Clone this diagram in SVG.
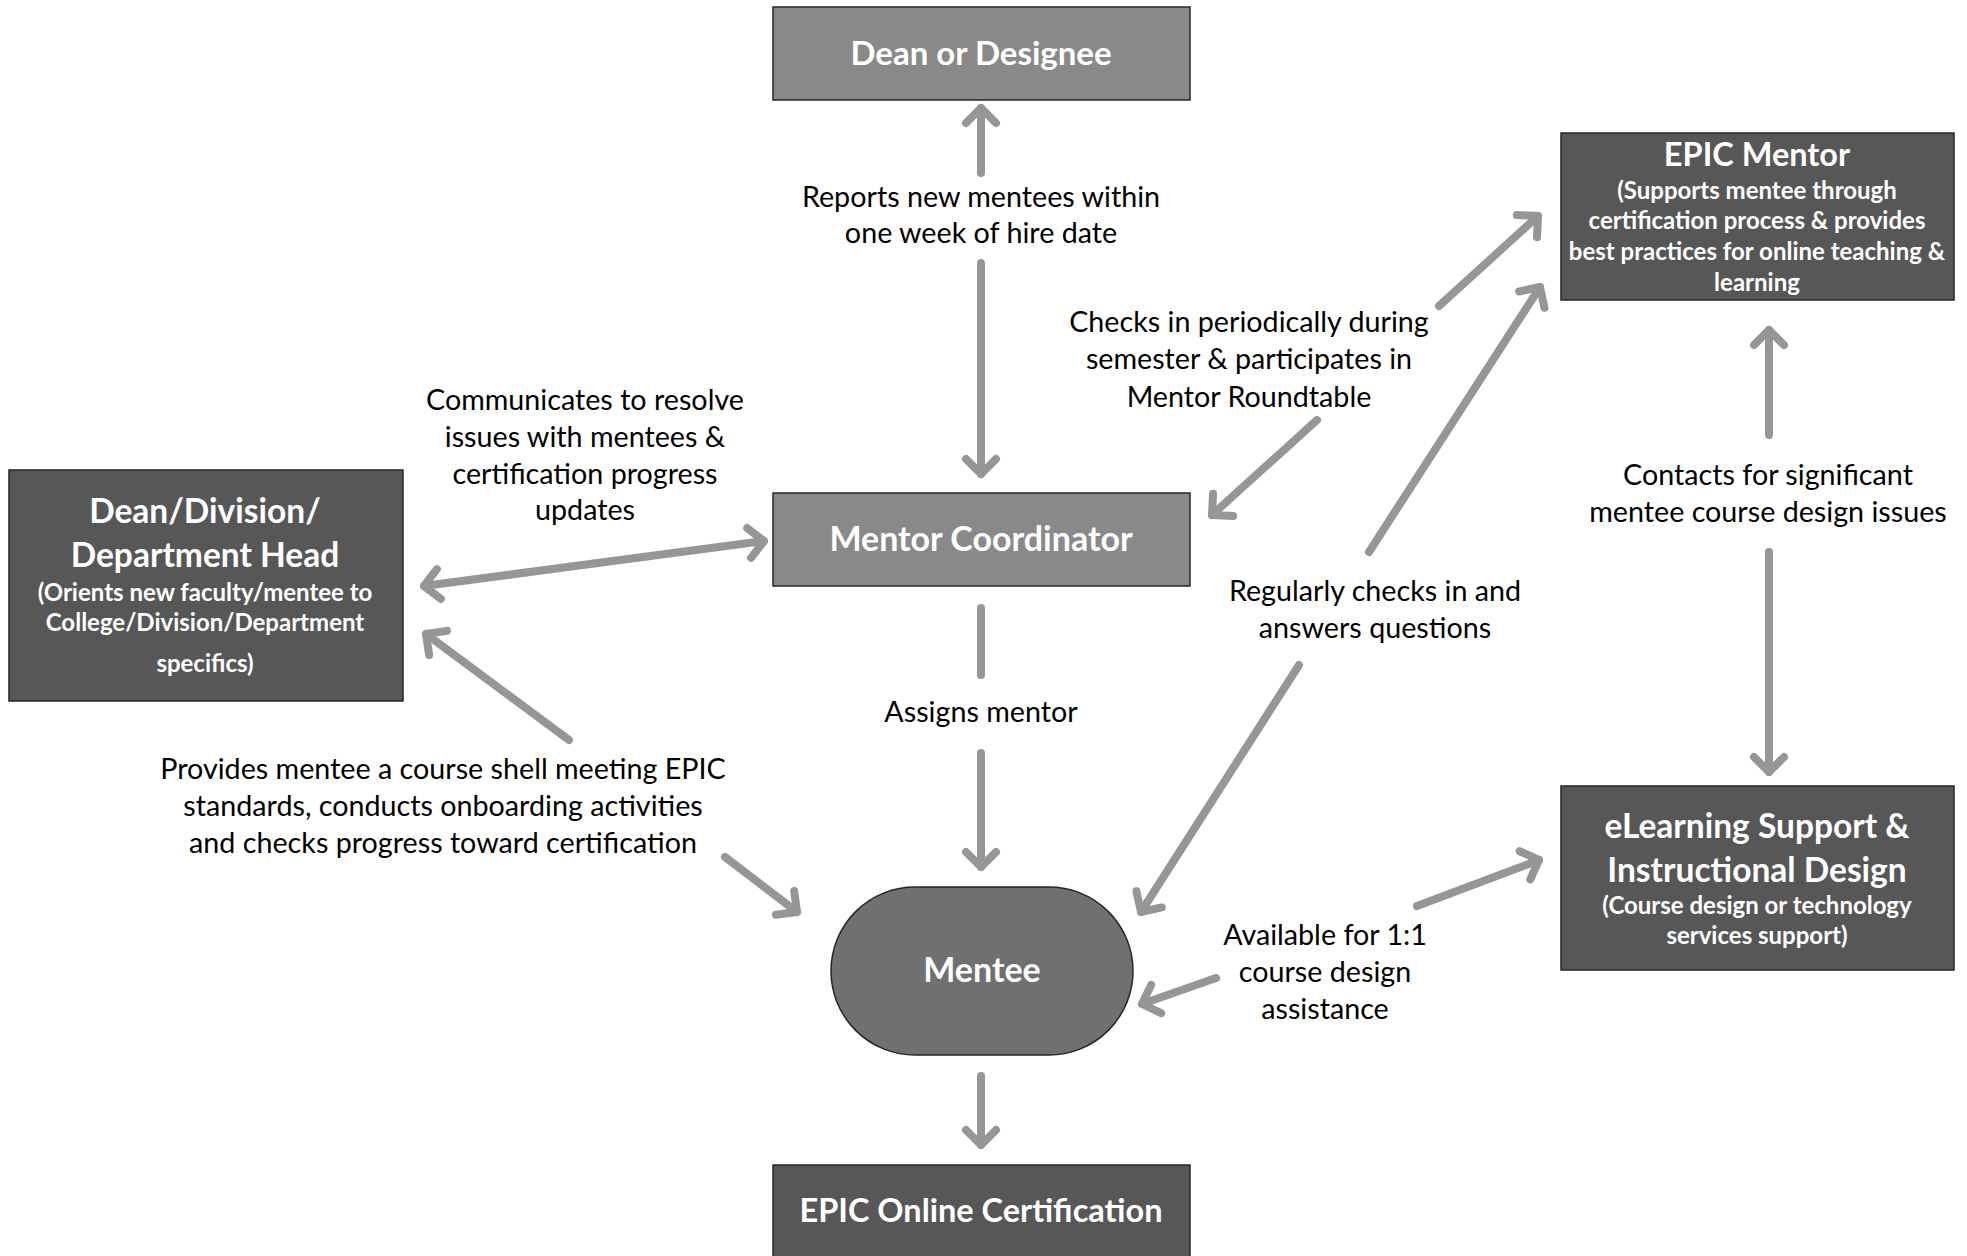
<svg xmlns="http://www.w3.org/2000/svg" width="1967" height="1256" viewBox="0 0 1967 1256">
<defs>
<marker id="ah" markerUnits="userSpaceOnUse" orient="auto-start-reverse" refX="0" refY="0" markerWidth="60" markerHeight="60" viewBox="-30 -30 60 60" overflow="visible">
<path d="M-15,-15 L0,0 L-15,15" fill="none" stroke="#969696" stroke-width="8" stroke-linecap="round" stroke-linejoin="round"/>
</marker>
<style>
.box{stroke:#262626;stroke-width:1.5}
.lt{fill:#898989}
.dk{fill:#575757}
.me{fill:#707070}
.nt{font-family:Lato,"Open Sans",sans-serif;font-weight:bold;fill:#fff;text-anchor:middle}
.t1{font-size:33px}
.t2{font-size:24px}
.lb{font-family:Lato,"Open Sans",sans-serif;font-size:28.7px;fill:#000;text-anchor:middle}
.c{fill:none;stroke:#969696;stroke-width:8;stroke-linecap:round}
.a{marker-end:url(#ah)}
.d{marker-start:url(#ah);marker-end:url(#ah)}
</style>
</defs>
<rect width="1967" height="1256" fill="#fff"/>
<g id="connectors">
<line class="c a" x1="981" y1="173" x2="981" y2="108"/>
<line class="c a" x1="981" y1="263" x2="981" y2="474"/>
<line class="c d" x1="424" y1="586" x2="764" y2="541"/>
<line class="c a" x1="1439" y1="306" x2="1538" y2="216"/>
<line class="c a" x1="1317" y1="420" x2="1212" y2="515"/>
<line class="c a" x1="1369" y1="552" x2="1540" y2="287"/>
<line class="c a" x1="1299" y1="665" x2="1141" y2="912"/>
<line class="c" x1="981" y1="608" x2="981" y2="675"/>
<line class="c a" x1="981" y1="753" x2="981" y2="867"/>
<line class="c a" x1="569" y1="740" x2="426" y2="634"/>
<line class="c a" x1="725" y1="857" x2="797" y2="912"/>
<line class="c a" x1="1769" y1="435" x2="1769" y2="330"/>
<line class="c a" x1="1769" y1="552" x2="1769" y2="772"/>
<line class="c a" x1="1216" y1="978" x2="1142" y2="1004"/>
<line class="c a" x1="1417" y1="906" x2="1539" y2="860"/>
<line class="c a" x1="981" y1="1076" x2="981" y2="1145"/>
</g>
<g id="labels">
<text class="lb"><tspan x="981" y="207">Reports new mentees within</tspan><tspan x="981" y="243">one week of hire date</tspan></text>
<text class="lb"><tspan x="1249" y="332">Checks in periodically during</tspan><tspan x="1249" y="369">semester &amp; participates in</tspan><tspan x="1249" y="407">Mentor Roundtable</tspan></text>
<text class="lb"><tspan x="585" y="410">Communicates to resolve</tspan><tspan x="585" y="447">issues with mentees &amp;</tspan><tspan x="585" y="484">certification progress</tspan><tspan x="585" y="520">updates</tspan></text>
<text class="lb"><tspan x="1375" y="601">Regularly checks in and</tspan><tspan x="1375" y="638">answers questions</tspan></text>
<text class="lb" x="981" y="722">Assigns mentor</text>
<text class="lb"><tspan x="443" y="779">Provides mentee a course shell meeting EPIC</tspan><tspan x="443" y="816">standards, conducts onboarding activities</tspan><tspan x="443" y="853">and checks progress toward certification</tspan></text>
<text class="lb"><tspan x="1768" y="485">Contacts for significant</tspan><tspan x="1768" y="522">mentee course design issues</tspan></text>
<text class="lb"><tspan x="1325" y="945">Available for 1:1</tspan><tspan x="1325" y="982">course design</tspan><tspan x="1325" y="1019">assistance</tspan></text>
</g>
<g id="dean">
<rect class="box lt" x="773" y="7" width="417" height="93"/>
<text class="nt t1" x="981" y="65">Dean or Designee</text>
</g>
<g id="epic-mentor">
<rect class="box dk" x="1561" y="133" width="393" height="167"/>
<text class="nt t1" x="1757" y="166" style="font-size:32.5px">EPIC Mentor</text>
<text class="nt t2"><tspan x="1757" y="199">(Supports mentee through</tspan><tspan x="1757" y="229">certification process &amp; provides</tspan><tspan x="1757" y="260">best practices for online teaching &amp;</tspan><tspan x="1757" y="291">learning</tspan></text>
</g>
<g id="dept-head">
<rect class="box dk" x="9" y="470" width="394" height="231"/>
<text class="nt t1" style="font-size:33.5px"><tspan x="205" y="523">Dean/Division/</tspan><tspan x="205" y="567">Department Head</tspan></text>
<text class="nt t2"><tspan x="205" y="601">(Orients new faculty/mentee to</tspan><tspan x="205" y="631">College/Division/Department</tspan><tspan x="205" y="672">specifics)</tspan></text>
</g>
<g id="mentor-coordinator">
<rect class="box lt" x="773" y="493" width="417" height="93"/>
<text class="nt t1" x="981" y="551" style="font-size:34px">Mentor Coordinator</text>
</g>
<g id="mentee">
<rect class="box me" x="831" y="887" width="302" height="168" rx="84" ry="84"/>
<text class="nt t1" x="982" y="982" style="font-size:34px">Mentee</text>
</g>
<g id="elearning">
<rect class="box dk" x="1561" y="786" width="393" height="184"/>
<text class="nt t1" style="font-size:33.5px"><tspan x="1757" y="838">eLearning Support &amp;</tspan><tspan x="1757" y="882">Instructional Design</tspan></text>
<text class="nt t2"><tspan x="1757" y="914">(Course design or technology</tspan><tspan x="1757" y="944">services support)</tspan></text>
</g>
<g id="certification">
<rect class="box dk" x="773" y="1165" width="417" height="100"/>
<text class="nt t1" x="981" y="1222" style="font-size:32.5px">EPIC Online Certification</text>
</g>
</svg>
